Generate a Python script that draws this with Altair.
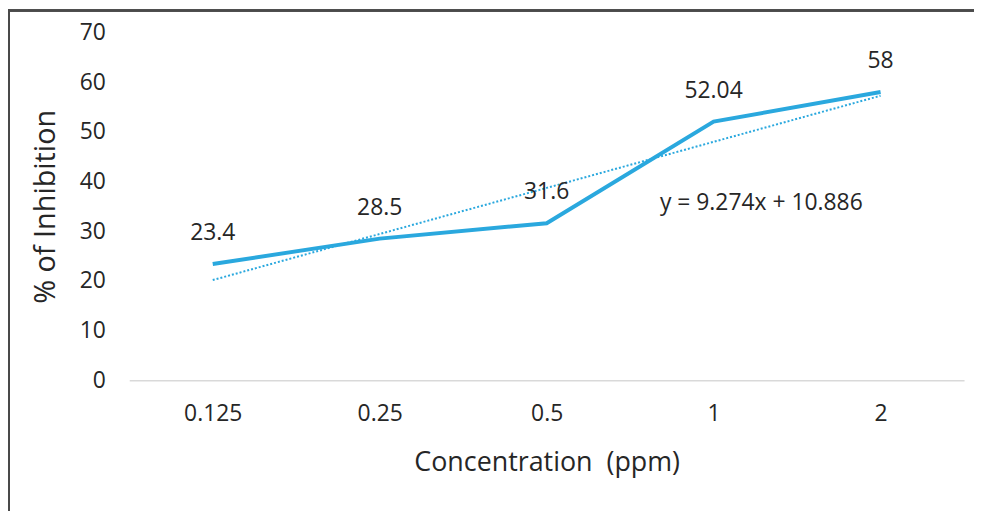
import altair as alt
import pandas as pd

concentrations = ["0.125", "0.25", "0.5", "1", "2"]
inhibition = [23.4, 28.5, 31.6, 52.04, 58]
labels = ["23.4", "28.5", "31.6", "52.04", "58"]
trend = [20.16, 29.434, 38.708, 47.982, 57.256]
equation = "y = 9.274x + 10.886"

df = pd.DataFrame({"conc": concentrations, "inh": inhibition, "lab": labels, "trend": trend})

FONT = "Open Sans"
W, H = 840, 350
PL, PT = 122, 23
TXT = "#262626"

xenc = alt.X("conc:N", sort=concentrations, title="Concentration\u00a0 (ppm)",
             scale=alt.Scale(type="point", padding=0.5),
             axis=alt.Axis(labelAngle=0, ticks=False, domainColor="#d9d9d9", domainWidth=1.5,
                           labelFontSize=23, labelPadding=22, titleFontSize=27,
                           titlePadding=25, titleFontWeight="normal", labelColor=TXT,
                           titleColor=TXT, labelFont=FONT, titleFont=FONT))
yscale = alt.Scale(domain=[0, 70])
yaxis = alt.Axis(values=[0, 10, 20, 30, 40, 50, 60, 70], ticks=False, domain=False, grid=False,
                 labelFontSize=23, labelPadding=24, titleFontSize=29, titlePadding=19,
                 titleFontWeight="normal", labelColor=TXT, titleColor=TXT,
                 labelFont=FONT, titleFont=FONT)

base = alt.Chart(df)

trend_line = base.mark_line(color="#2aa8de", strokeWidth=2, strokeDash=[2, 2]).encode(
    x=xenc, y=alt.Y("trend:Q", scale=yscale, axis=yaxis, title="% of Inhibition"))

main_line = base.mark_line(color="#2aa8de", strokeWidth=4).encode(
    x=xenc, y=alt.Y("inh:Q", scale=yscale))

text = base.mark_text(dy=-31, fontSize=23, font=FONT, color=TXT).encode(
    x=xenc, y=alt.Y("inh:Q", scale=yscale), text="lab:N")

eq_df = pd.DataFrame({"conc": ["1"], "y": [35.6], "t": [equation]})
eq = alt.Chart(eq_df).mark_text(dx=48, fontSize=23, font=FONT, color=TXT).encode(
    x=alt.X("conc:N", sort=concentrations), y=alt.Y("y:Q", scale=yscale), text="t:N")

frame_top = alt.Chart(df).mark_rule(color="#4a4a4a", strokeWidth=2).encode(
    x=alt.value(-PL), x2=alt.value(W + 20), y=alt.value(-PT + 1))
frame_left = alt.Chart(df).mark_rule(color="#4a4a4a", strokeWidth=2).encode(
    x=alt.value(-PL + 1), y=alt.value(-PT), y2=alt.value(H + 150))

chart = alt.layer(trend_line, main_line, text, eq, frame_top, frame_left).properties(
    width=W, height=H,
    background="white",
    autosize=alt.AutoSizeParams(type="none"),
    padding={"left": PL, "top": PT, "right": 10, "bottom": 130},
).configure_view(strokeWidth=0, stroke=None)

chart.save("out.html", embed_options={"renderer": "svg", "actions": False})
